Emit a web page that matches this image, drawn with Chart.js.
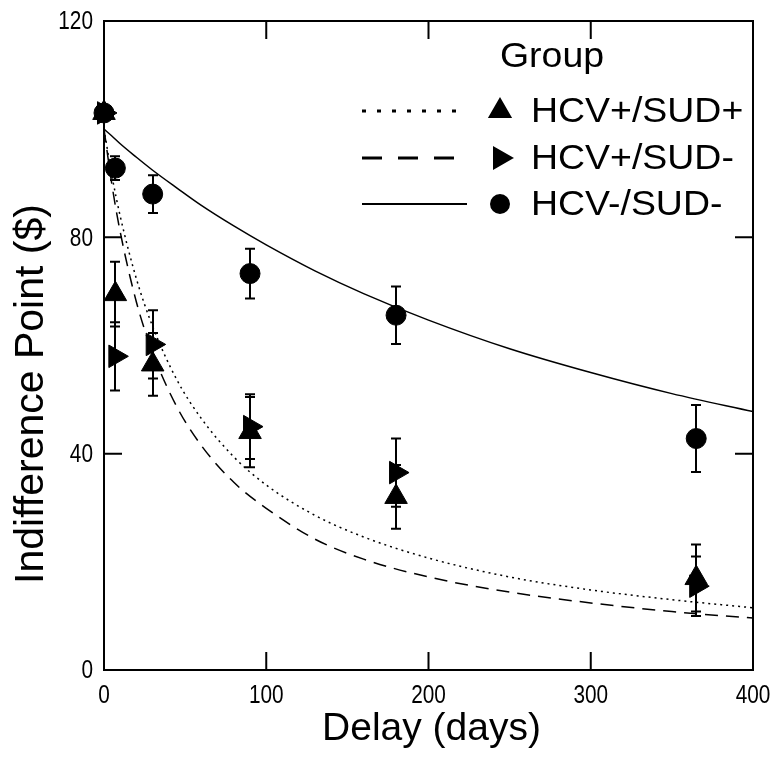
<!DOCTYPE html>
<html><head><meta charset="utf-8">
<script src="https://cdn.jsdelivr.net/npm/chart.js@4.4.1/dist/chart.umd.min.js"></script>
<style>html,body{margin:0;padding:0;background:#fff;}#wrap{width:778px;height:760px;position:relative;}</style>
</head><body><div id="wrap"><canvas id="c" width="778" height="760" style="width:778px;height:760px"></canvas></div>
<script>
// ---- data ----
const delays = [0, 7, 30, 90, 180, 365];
const groupNames = ['HCV+/SUD+', 'HCV+/SUD-', 'HCV-/SUD-'];
const hcvPosSudPos = [103, 69.5, 56.5, 44, 32, 17];
const hcvPosSudPosErr = [0, 6, 5.8, 6.5, 5.9, 6.2];
const hcvPosSudNeg = [103, 58, 60.2, 45, 36.5, 15.5];
const hcvPosSudNegErr = [0, 6.3, 6.3, 6, 6.3, 5.5];
const hcvNegSudNeg = [103, 92.8, 88, 73.3, 65.6, 42.8];
const hcvNegSudNegErr = [0, 2.2, 3.5, 4.6, 5.3, 6.2];

const curveDays = [0, 5, 10, 20, 30, 45, 60, 80, 100, 130, 160, 200, 250, 300, 350, 400];
const fitHcvPosSudPos = [100, 91.2, 83.9, 72.3, 63.5, 53.6, 46.5, 39.4, 34.2, 28.6, 24.6, 20.7, 17.2, 14.8, 13.0, 11.5];
const fitHcvPosSudNeg = [100, 89.5, 81, 68, 58.7, 48.6, 41.5, 34.7, 29.9, 24.2, 20.5, 17.2, 14.4, 12.4, 10.8, 9.6];
const fitHcvNegSudNeg = [100, 98.7, 97.3, 94.8, 92.4, 89.1, 85.9, 82.1, 78.6, 73.8, 69.6, 64.7, 59.4, 55, 51.1, 47.8];

const xTicks = [0, 100, 200, 300, 400];
const yTicks = [0, 40, 80, 120];
const xTitle = 'Delay (days)';
const yTitle = 'Indifference Point ($)';
const legendTitle = 'Group';

// ---- helpers ----
const pts = (xs, ys) => xs.map((x, i) => ({x: x, y: ys[i]}));
const errs = [hcvPosSudPosErr, hcvPosSudNegErr, hcvNegSudNegErr];
const TEXT_FONT = "'Liberation Sans',Arial,Helvetica,sans-serif";

const markerDs = (label, ys, style, radius, rot) => ({
  label: label, data: pts(delays, ys), showLine: false,
  pointStyle: style, pointRadius: radius, pointRotation: rot,
  pointBackgroundColor: '#000', pointBorderColor: '#000', pointBorderWidth: 1,
  clip: false, order: 0
});
const curveDs = (label, ys, dash) => ({
  label: label, data: pts(curveDays, ys), showLine: true, pointRadius: 0,
  borderColor: '#000', borderWidth: 1.5, borderDash: dash, fill: false,
  cubicInterpolationMode: 'monotone', order: 1
});

const dashes = [[2, 4], [13, 8], []];
const legendDashes = [[4, 11], [20, 16], []];
const styles = [['triangle', 13, 0], ['triangle', 13, 90], ['circle', 10, 0]];

const errorBars = {
  id: 'errorBars',
  afterDatasetsDraw(chart) {
    const ctx = chart.ctx, xs = chart.scales.x, ys = chart.scales.y;
    ctx.save();
    ctx.strokeStyle = '#000'; ctx.lineWidth = 2;
    for (let d = 0; d < 3; d++) {
      const ds = chart.data.datasets[d];
      ds.data.forEach((p, j) => {
        const e = errs[d][j];
        if (!e) return;
        const x = Math.round(xs.getPixelForValue(p.x));
        const y1 = ys.getPixelForValue(p.y + e), y2 = ys.getPixelForValue(p.y - e);
        ctx.beginPath();
        ctx.moveTo(x, y1); ctx.lineTo(x, y2);
        ctx.moveTo(x - 5, y1); ctx.lineTo(x + 5, y1);
        ctx.moveTo(x - 5, y2); ctx.lineTo(x + 5, y2);
        ctx.stroke();
      });
    }
    ctx.restore();
  }
};

const frame = {
  id: 'frame',
  afterDraw(chart) {
    const ctx = chart.ctx, a = chart.chartArea, xs = chart.scales.x, ys = chart.scales.y;
    ctx.save();
    ctx.strokeStyle = '#000'; ctx.lineWidth = 2;
    ctx.strokeRect(a.left, a.top, a.right - a.left, a.bottom - a.top);
    const L = 18;
    ctx.beginPath();
    xTicks.forEach(v => {
      const x = xs.getPixelForValue(v);
      ctx.moveTo(x, a.bottom); ctx.lineTo(x, a.bottom - L);
      ctx.moveTo(x, a.top); ctx.lineTo(x, a.top + L);
    });
    yTicks.forEach(v => {
      const y = ys.getPixelForValue(v);
      ctx.moveTo(a.left, y); ctx.lineTo(a.left + L, y);
      ctx.moveTo(a.right, y); ctx.lineTo(a.right - L, y);
    });
    ctx.stroke();

    // tick labels (narrow)
    ctx.fillStyle = '#000';
    ctx.font = '26px ' + TEXT_FONT;
    ctx.textAlign = 'center'; ctx.textBaseline = 'top';
    xTicks.forEach(v => {
      ctx.save();
      ctx.translate(xs.getPixelForValue(v), a.bottom + 13);
      ctx.scale(0.8, 1);
      ctx.fillText(String(v), 0, 0);
      ctx.restore();
    });
    ctx.textAlign = 'right'; ctx.textBaseline = 'middle';
    yTicks.forEach(v => {
      ctx.save();
      ctx.translate(a.left - 11, ys.getPixelForValue(v) + 1);
      ctx.scale(0.8, 1);
      ctx.fillText(String(v), 0, 0);
      ctx.restore();
    });

    // axis titles
    ctx.font = '39px ' + TEXT_FONT;
    ctx.textAlign = 'center'; ctx.textBaseline = 'alphabetic';
    ctx.fillText(xTitle, (a.left + a.right) / 2 + 3, 740);
    ctx.save();
    ctx.font = '41px ' + TEXT_FONT;
    ctx.translate(43, 394);
    ctx.rotate(-Math.PI / 2);
    ctx.fillText(yTitle, 0, 0);
    ctx.restore();

    // legend
    ctx.font = '35px ' + TEXT_FONT;
    ctx.save();
    ctx.translate(552, 67);
    ctx.scale(1.07, 1);
    ctx.textAlign = 'center';
    ctx.fillText(legendTitle, 0, 0);
    ctx.restore();
    const rows = [111, 158, 204];
    ctx.textAlign = 'left'; ctx.textBaseline = 'middle';
    for (let i = 0; i < 3; i++) {
      const y = rows[i];
      ctx.save();
      ctx.lineWidth = i === 2 ? 2 : 3;
      ctx.setLineDash(legendDashes[i]);
      ctx.beginPath(); ctx.moveTo(362, y); ctx.lineTo(467, y); ctx.stroke();
      ctx.restore();
      Chart.helpers.drawPoint(ctx, {pointStyle: styles[i][0], radius: styles[i][1] - 1, rotation: styles[i][2], borderWidth: 1}, 500, y);
      ctx.fill();
      ctx.save();
      ctx.translate(531, y + 1);
      ctx.scale(1.07, 1);
      ctx.fillText(groupNames[i], 0, 0);
      ctx.restore();
    }
    ctx.restore();
  }
};

new Chart(document.getElementById('c'), {
  type: 'scatter',
  data: {
    datasets: [
      markerDs(groupNames[0], hcvPosSudPos, ...styles[0]),
      markerDs(groupNames[1], hcvPosSudNeg, ...styles[1]),
      markerDs(groupNames[2], hcvNegSudNeg, ...styles[2]),
      curveDs(groupNames[0] + ' fit', fitHcvPosSudPos, dashes[0]),
      curveDs(groupNames[1] + ' fit', fitHcvPosSudNeg, dashes[1]),
      curveDs(groupNames[2] + ' fit', fitHcvNegSudNeg, dashes[2])
    ]
  },
  options: {
    responsive: false, animation: false, devicePixelRatio: 1,
    layout: {autoPadding: false, padding: {top: 21, right: 25, left: 0, bottom: 0}},
    plugins: {legend: {display: false}, tooltip: {enabled: false}},
    scales: {
      x: {
        type: 'linear', min: 0, max: 400,
        afterBuildTicks: s => { s.ticks = xTicks.map(v => ({value: v})); },
        afterFit: s => { s.height = 90; },
        grid: {display: false}, border: {display: false},
        ticks: {display: false}
      },
      y: {
        type: 'linear', min: 0, max: 120,
        afterBuildTicks: s => { s.ticks = yTicks.map(v => ({value: v})); },
        afterFit: s => { s.width = 104; },
        grid: {display: false}, border: {display: false},
        ticks: {display: false}
      }
    }
  },
  plugins: [errorBars, frame]
});
</script>
</body></html>
